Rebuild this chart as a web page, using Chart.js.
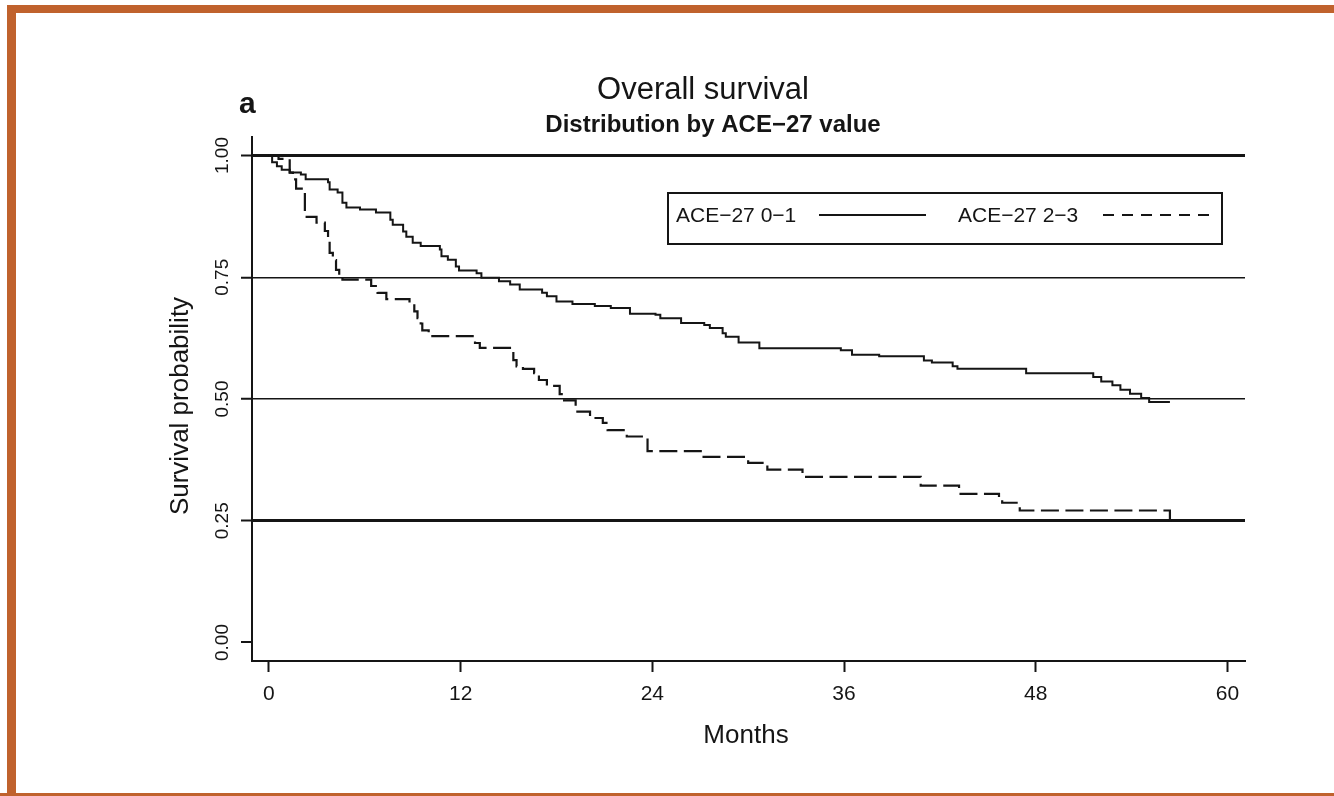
<!DOCTYPE html>
<html><head><meta charset="utf-8">
<script src="https://cdn.jsdelivr.net/npm/chart.js@4.4.0/dist/chart.umd.min.js"></script>
<style>
html,body{margin:0;padding:0;background:#fff;}
#wrap{position:relative;width:1334px;height:796px;overflow:hidden;background:#fff;}
#frame{position:absolute;left:7px;top:5px;width:1340px;height:800px;box-sizing:border-box;border-top:8px solid #C0622D;border-left:9px solid #C0622D;}
#bottom{position:absolute;left:0;top:793px;width:1334px;height:3px;background:#C0622D;}
canvas{position:absolute;left:0;top:0;}
</style></head>
<body><div id="wrap"><div id="frame"></div><div id="bottom"></div><canvas id="c" width="1334" height="796"></canvas></div>
<script>
// ---- data ----
const xTickValues = [0, 12, 24, 36, 48, 60];
const xTickLabels = ['0', '12', '24', '36', '48', '60'];
const yTickValues = [0, 0.25, 0.5, 0.75, 1];
const yTickLabels = ['0.00', '0.25', '0.50', '0.75', '1.00'];
const seriesLabels = ['ACE\u221227 0\u22121', 'ACE\u221227 2\u22123'];

// ACE-27 0-1 (solid): event times (months) and survival after each event
const monthsLow = [0, 0.2, 0.5, 0.8, 1.3, 2.0, 2.3, 3.7, 3.8, 4.3, 4.6, 4.85, 5.7, 6.7, 7.6, 7.75, 8.4, 8.6, 9.0, 9.5,
  10.7, 10.8, 11.2, 11.7, 11.9, 13.0, 13.3, 14.4, 15.1, 15.7, 17.1, 17.4, 18.0, 19.0, 20.4, 21.4, 22.6, 24.2, 24.5,
  25.8, 27.25, 27.6, 28.4, 28.6, 29.4, 30.7, 35.8, 36.5, 38.2, 41.0, 41.5, 42.8, 43.1, 47.4, 51.6, 52.1, 52.8, 53.3,
  53.9, 54.6, 55.1, 56.4];
const survLow = [1.0, 0.986, 0.978, 0.971, 0.965, 0.961, 0.951, 0.945, 0.930, 0.924, 0.903, 0.893, 0.889, 0.883,
  0.868, 0.858, 0.844, 0.833, 0.821, 0.814, 0.807, 0.793, 0.786, 0.772, 0.764, 0.758, 0.749, 0.742, 0.735, 0.725,
  0.718, 0.711, 0.700, 0.695, 0.691, 0.687, 0.675, 0.673, 0.666, 0.656, 0.652, 0.646, 0.635, 0.628, 0.616, 0.604,
  0.600, 0.591, 0.588, 0.579, 0.575, 0.567, 0.562, 0.553, 0.545, 0.536, 0.528, 0.519, 0.511, 0.502, 0.494, 0.494];

// ACE-27 2-3 (dashed)
const monthsHigh = [0, 0.6, 1.3, 1.5, 1.7, 2.25, 2.98, 3.5, 3.7, 3.8, 4.0, 4.2, 4.4, 4.6, 6.4, 6.8, 7.35, 8.8, 9.1,
  9.3, 9.5, 9.6, 10.0, 12.9, 13.2, 15.3, 15.5, 15.9, 16.6, 16.9, 17.4, 18.2, 18.4, 19.2, 20.1, 20.9, 21.2, 22.4,
  23.7, 27.1, 30.0, 31.2, 33.4, 40.8, 43.2, 45.7, 45.9, 47.0, 56.4];
const survHigh = [1.0, 0.993, 0.965, 0.951, 0.932, 0.874, 0.862, 0.845, 0.830, 0.800, 0.785, 0.765, 0.755, 0.745,
  0.732, 0.718, 0.705, 0.697, 0.680, 0.666, 0.655, 0.641, 0.629, 0.615, 0.605, 0.580, 0.567, 0.562, 0.553, 0.539,
  0.527, 0.510, 0.497, 0.474, 0.461, 0.451, 0.436, 0.423, 0.393, 0.381, 0.369, 0.355, 0.340, 0.322, 0.305, 0.297,
  0.287, 0.271, 0.245];

const titleText = 'Overall survival';
const subtitleText = 'Distribution by ACE\u221227 value';
const panelLetter = 'a';
const xTitle = 'Months';
const yTitle = 'Survival probability';

// ---- drawing ----
const FONT = '"Liberation Sans", Arial, Helvetica, sans-serif';
const INK = '#151515';

const toPoints = (xs, ys) => xs.map((x, i) => ({x: x, y: ys[i]}));

const decor = {
  id: 'decor',
  afterDraw(chart) {
    const c = chart.ctx;
    c.save();
    c.fillStyle = INK;
    c.textBaseline = 'alphabetic';
    // title & subtitle
    c.textAlign = 'center';
    c.font = '31px ' + FONT;
    c.fillText(titleText, 703, 99);
    c.font = 'bold 24px ' + FONT;
    c.fillText(subtitleText, 713, 132);
    // panel letter
    c.textAlign = 'left';
    c.font = 'bold 30px ' + FONT;
    c.fillText(panelLetter, 239, 113);
    // axis titles
    c.textAlign = 'center';
    c.font = '26px ' + FONT;
    c.fillText(xTitle, 746, 743);
    c.save();
    c.translate(188, 406);
    c.rotate(-Math.PI / 2);
    c.fillText(yTitle, 0, 0);
    c.restore();
    // legend box
    const ds = chart.data.datasets;
    c.strokeStyle = INK;
    c.lineWidth = 2;
    c.strokeRect(668, 193, 554, 51);
    c.font = '21px ' + FONT;
    c.textAlign = 'left';
    c.fillText(ds[0].label, 676, 222);
    c.fillText(ds[1].label, 958, 222);
    c.beginPath();
    c.moveTo(819, 215); c.lineTo(926, 215);
    c.stroke();
    c.setLineDash([11, 8]);
    c.beginPath();
    c.moveTo(1103, 215); c.lineTo(1212, 215);
    c.stroke();
    c.restore();
  }
};

new Chart(document.getElementById('c'), {
  type: 'line',
  data: {
    datasets: [
      {label: seriesLabels[0], data: toPoints(monthsLow, survLow), stepped: 'before',
        borderColor: INK, borderWidth: 2, pointRadius: 0, fill: false},
      {label: seriesLabels[1], data: toPoints(monthsHigh, survHigh), stepped: 'before',
        borderColor: INK, borderWidth: 2.2, borderDash: [18, 6.5], pointRadius: 0, fill: false}
    ]
  },
  options: {
    responsive: false, animation: false, devicePixelRatio: 1,
    layout: {padding: {left: 150, right: 89, top: 137, bottom: 60}},
    plugins: {legend: {display: false}, tooltip: {enabled: false}, title: {display: false}},
    scales: {
      x: {
        type: 'linear', min: -1.06, max: 61.1,
        afterBuildTicks: s => { s.ticks = xTickValues.map(v => ({value: v})); },
        afterFit: s => { s.height = 75; },
        ticks: {callback: (v, i) => xTickLabels[i], font: {family: FONT, size: 21}, color: INK, padding: 10,
          maxRotation: 0, autoSkip: false},
        grid: {drawOnChartArea: false, drawTicks: true, tickLength: 11, tickWidth: 2, tickColor: INK},
        border: {display: true, width: 2, color: INK}
      },
      y: {
        type: 'linear', min: -0.038, max: 1.038,
        afterBuildTicks: s => { s.ticks = yTickValues.map(v => ({value: v})); },
        afterFit: s => { s.width = 102; },
        ticks: {callback: (v, i) => yTickLabels[i], font: {family: FONT, size: 19}, color: INK, padding: 0,
          minRotation: 90, maxRotation: 90, crossAlign: 'center', autoSkip: false},
        grid: {
          drawOnChartArea: true, drawTicks: true, tickLength: 11, tickWidth: 2, tickColor: INK,
          color: ctx => (ctx.tick && ctx.tick.value === 0) ? 'rgba(0,0,0,0)' : INK,
          lineWidth: ctx => {
            if (!ctx.tick) return 0;
            const v = ctx.tick.value;
            if (v === 0) return 0;
            return (v === 1 || v === 0.25) ? 3 : 1.5;
          }
        },
        border: {display: true, width: 2, color: INK}
      }
    }
  },
  plugins: [decor]
});
</script>
</body></html>
